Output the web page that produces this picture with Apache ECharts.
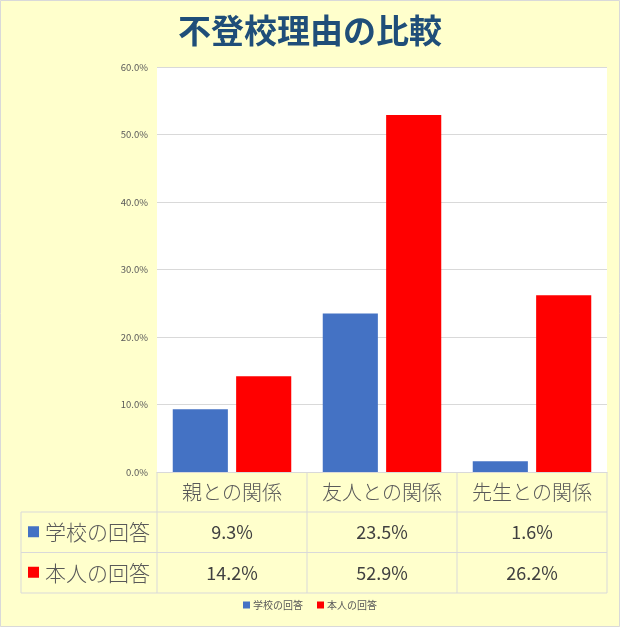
<!DOCTYPE html>
<html><head><meta charset="utf-8">
<script src="https://cdn.jsdelivr.net/npm/echarts@6/dist/echarts.min.js"></script>
<style>html,body{margin:0;padding:0;background:#FFFFCC}#c{width:620px;height:627px}</style>
</head><body><div id="c"></div>
<script>
const title = '不登校理由の比較';
const categories = ['親との関係', '友人との関係', '先生との関係'];
const seriesNames = ['学校の回答', '本人の回答'];
const schoolValues = [9.3, 23.5, 1.6];
const selfValues = [14.2, 52.9, 26.2];
const colors = ['#4472C4', '#FF0000'];

const FONT = '"Noto Sans CJK JP", "Noto Sans", sans-serif';
const W = 620, H = 627;
const gL = 157, gR = 607, gT = 67, gB = 472;
const tableLeft = 21, rowH = 40.5;
const lineColor = '#D9D9D9';
const colW = (gR - gL) / categories.length;
const allValues = [schoolValues, selfValues];

const graphics = [];
graphics.push({type:'rect', shape:{x:0.5,y:0.5,width:W-1,height:H-1}, style:{fill:null, stroke:lineColor, lineWidth:1}, silent:true});
const yTop = gB, y1 = gB + 40, y2 = y1 + rowH, y3 = y2 + rowH;
function hline(x1,x2,y){graphics.push({type:'line', shape:{x1:x1,y1:y,x2:x2,y2:y}, style:{stroke:lineColor, lineWidth:1}, silent:true});}
function vline(x,ya,yb){graphics.push({type:'line', shape:{x1:x,y1:ya,x2:x,y2:yb}, style:{stroke:lineColor, lineWidth:1}, silent:true});}
hline(tableLeft, gR, y1); hline(tableLeft, gR, y2); hline(tableLeft, gR, y3);
vline(tableLeft, y1, y3);
for (let i = 0; i <= categories.length; i++) vline(gL + i*colW, yTop, y3);
allValues.forEach((vals, r) => {
  const cy = y1 + rowH*r + rowH/2;
  graphics.push({type:'rect', shape:{x:28, y:cy-6, width:11, height:11}, style:{fill:colors[r]}, silent:true});
  graphics.push({type:'text', x:45, y:cy, style:{text:seriesNames[r], font:'300 21px ' + FONT, fill:'#595959', textVerticalAlign:'middle', textAlign:'left'}, silent:true});
  vals.forEach((v, c) => {
    graphics.push({type:'text', x:gL + colW*c + colW/2, y:cy, style:{text:v.toFixed(1)+'%', font:'18px ' + FONT, fill:'#404040', textVerticalAlign:'middle', textAlign:'center'}, silent:true});
  });
});

const chart = echarts.init(document.getElementById('c'));
chart.setOption({
  backgroundColor:'#FFFFCC',
  animation:false,
  title:{text:title, left:'center', top:9, textStyle:{fontFamily:FONT, fontSize:33, fontWeight:'bold', color:'#1F4E79'}},
  legend:{bottom:12, left:'center', itemWidth:7, itemHeight:7, itemGap:14, icon:'rect',
    textStyle:{fontFamily:FONT, fontSize:10, color:'#595959', padding:[0,0,0,-2]}, data:seriesNames},
  grid:{left:gL, right:W-gR, top:gT, bottom:H-gB, show:true, backgroundColor:'#FFFFFF', borderWidth:0},
  xAxis:{type:'category', data:categories,
    axisLine:{show:true, lineStyle:{color:lineColor}}, axisTick:{show:false},
    axisLabel:{interval:0, margin:10, fontFamily:FONT, fontSize:20, fontWeight:300, color:'#595959', lineHeight:20}},
  yAxis:{type:'value', min:0, max:60, interval:10,
    axisLabel:{formatter:v=>v.toFixed(1)+'%', fontFamily:FONT, fontSize:9.5, color:'#595959', margin:9},
    splitLine:{lineStyle:{color:lineColor}}, axisLine:{show:false}, axisTick:{show:false}},
  series:[
    {name:seriesNames[0], type:'bar', data:schoolValues, itemStyle:{color:colors[0]}, barGap:'15%', barCategoryGap:'21%'},
    {name:seriesNames[1], type:'bar', data:selfValues, itemStyle:{color:colors[1]}, barGap:'15%', barCategoryGap:'21%'}
  ],
  graphic:graphics
});
</script></body></html>
